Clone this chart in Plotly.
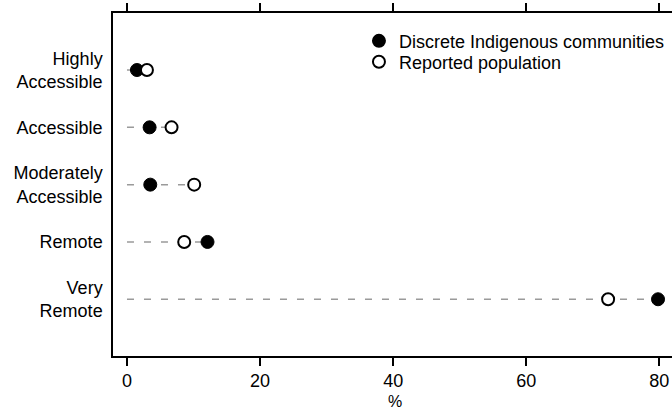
import plotly.graph_objects as go

categories = ["Highly<br>Accessible", "Accessible", "Moderately<br>Accessible", "Remote", "Very<br>Remote"]
communities = [1.5, 3.4, 3.5, 12.1, 79.8]
population = [3.0, 6.7, 10.1, 8.6, 72.3]
x_ticks = [0, 20, 40, 60, 80]
x_title = "%"

pos = list(range(len(categories)))
FONT = "Liberation Sans"

fig = go.Figure()

for i, (a, b) in enumerate(zip(communities, population)):
    fig.add_trace(go.Scatter(
        x=[0, max(a, b)], y=[i, i], mode="lines",
        line=dict(color="#9a9a9a", width=1.5, dash="7px,10px"),
        showlegend=False, hoverinfo="skip"))

fig.add_trace(go.Scatter(
    x=communities, y=pos, mode="markers", name="Discrete Indigenous communities",
    legend="legend",
    marker=dict(symbol="circle", size=13, color="black", line=dict(color="black", width=1))))
fig.add_trace(go.Scatter(
    x=population, y=pos, mode="markers", name="Reported population",
    legend="legend2",
    marker=dict(symbol="circle", size=12, color="white", line=dict(color="black", width=2))))

leg_common = dict(xanchor="left", yanchor="middle", bgcolor="rgba(0,0,0,0)",
                  font=dict(size=18), itemsizing="constant", borderwidth=0)

fig.add_annotation(text=x_title, xref="paper", yref="paper", x=0.505, y=-0.1325,
                   xanchor="center", yanchor="middle", showarrow=False,
                   font=dict(size=16, family=FONT, color="black"))

fig.update_layout(
    width=672, height=409,
    margin=dict(l=113, r=0, t=13, b=53, autoexpand=False),
    paper_bgcolor="white", plot_bgcolor="white",
    font=dict(family=FONT, size=18, color="black"),
    showlegend=True,
    legend=dict(x=0.44, y=0.918, **leg_common),
    legend2=dict(x=0.44, y=0.857, **leg_common),
    xaxis=dict(range=[-2.1, 81.9], tickvals=x_ticks, ticktext=[str(t) for t in x_ticks],
               showgrid=False, zeroline=False, showline=True, linecolor="black", linewidth=1.5,
               mirror="ticks", ticks="outside", ticklen=8, tickwidth=1.5, tickcolor="black",
               automargin=False, tickfont=dict(size=18)),
    yaxis=dict(range=[4.99, -0.995], tickvals=pos, ticktext=categories,
               showgrid=False, zeroline=False, showline=True, linecolor="black", linewidth=1.5,
               automargin=False,
               mirror=False, ticks="", ticklabelstandoff=5, tickfont=dict(size=18)),
)

fig.write_html("out.html")
